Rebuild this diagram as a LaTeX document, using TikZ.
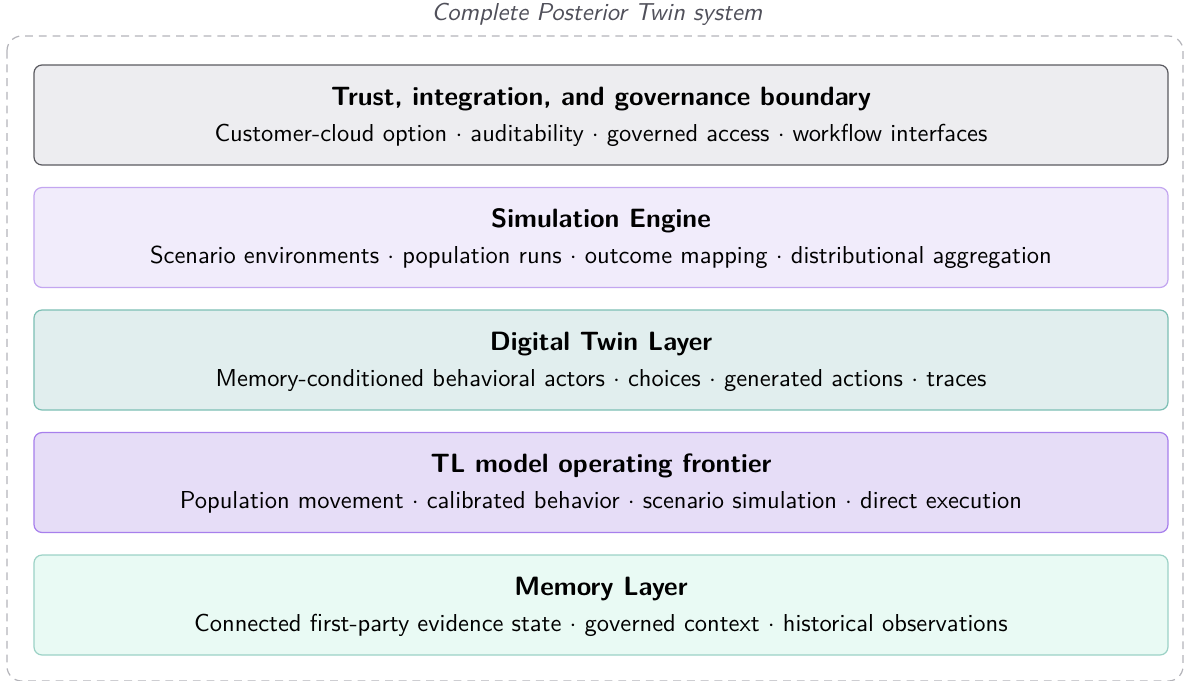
\documentclass[tikz,border=0pt]{standalone}
\usepackage{tikz}
\renewcommand{\familydefault}{\sfdefault}

\definecolor{trustfill}{HTML}{EDEDF0}
\definecolor{trustline}{HTML}{5A5A60}
\definecolor{simfill}{HTML}{F1ECFB}
\definecolor{simline}{HTML}{C3A6F0}
\definecolor{twinfill}{HTML}{E1EEEE}
\definecolor{twinline}{HTML}{7CBFB4}
\definecolor{tlfill}{HTML}{E6DDF7}
\definecolor{tlline}{HTML}{A77FEC}
\definecolor{memfill}{HTML}{E9FAF4}
\definecolor{memline}{HTML}{9CD2C6}
\definecolor{frameline}{HTML}{B4B4BA}
\definecolor{captiontext}{HTML}{50505A}

\tikzset{
  layerbox/.style={draw, rounded corners=3.3pt, line width=0.5pt, minimum width=462.7pt, minimum height=40.8pt, inner sep=0pt},
  layertitle/.style={font=\fontsize{10.8}{13}\selectfont\bfseries, inner sep=0pt},
  layersub/.style={font=\normalsize, inner sep=0pt},
}

\begin{document}
\begin{tikzpicture}[x=0.408pt,y=0.408pt,yscale=-1,xscale=1]
\useasboundingbox (0,0) rectangle (1188,680);

% outer frame
\draw [frameline, dash pattern=on 3.2pt off 2.4pt, line width=0.5pt, rounded corners=6pt] (7,36) rectangle (1183,681);
\node (caption) at (597,14) [font=\itshape, text=captiontext, inner sep=0pt] {Complete Posterior Twin system};

% layers
\node (trust) [layerbox, draw=trustline, fill=trustfill] at (601,115) {};
\node (trusttitle) [layertitle] at ([yshift=-6.7pt]trust.center) {Trust, integration, and governance boundary};
\node (trustsub) [layersub] at ([yshift=8.2pt]trust.center) {Customer-cloud option $\cdot$ auditability $\cdot$ governed access $\cdot$ workflow interfaces};

\node (sim) [layerbox, draw=simline, fill=simfill] at (601,237.5) {};
\node (simtitle) [layertitle] at ([yshift=-6.7pt]sim.center) {Simulation Engine};
\node (simsub) [layersub] at ([yshift=8.2pt]sim.center) {Scenario environments $\cdot$ population runs $\cdot$ outcome mapping $\cdot$ distributional aggregation};

\node (twin) [layerbox, draw=twinline, fill=twinfill] at (601,360) {};
\node (twintitle) [layertitle] at ([yshift=-6.7pt]twin.center) {Digital Twin Layer};
\node (twinsub) [layersub] at ([yshift=8.2pt]twin.center) {Memory-conditioned behavioral actors $\cdot$ choices $\cdot$ generated actions $\cdot$ traces};

\node (tl) [layerbox, draw=tlline, fill=tlfill] at (601,482.5) {};
\node (tltitle) [layertitle] at ([yshift=-6.7pt]tl.center) {TL model operating frontier};
\node (tlsub) [layersub] at ([yshift=8.2pt]tl.center) {Population movement $\cdot$ calibrated behavior $\cdot$ scenario simulation $\cdot$ direct execution};

\node (mem) [layerbox, draw=memline, fill=memfill] at (601,605) {};
\node (memtitle) [layertitle] at ([yshift=-6.7pt]mem.center) {Memory Layer};
\node (memsub) [layersub] at ([yshift=8.2pt]mem.center) {Connected first-party evidence state $\cdot$ governed context $\cdot$ historical observations};

\end{tikzpicture}
\end{document}
